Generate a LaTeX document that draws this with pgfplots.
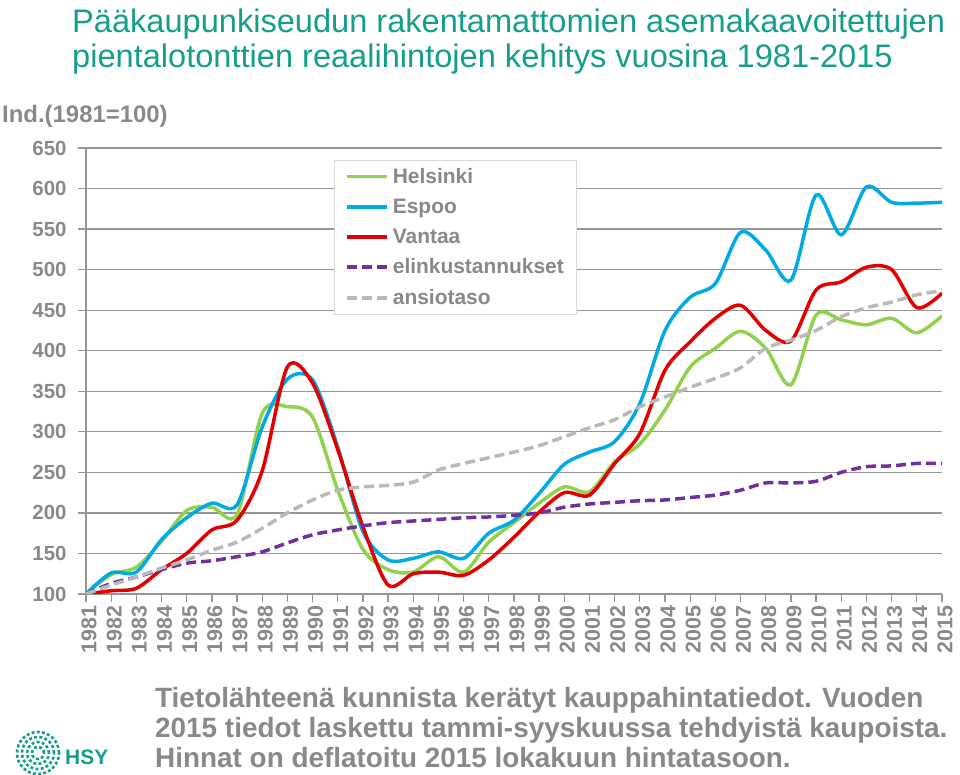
\documentclass[border=0pt]{standalone}
\usepackage{fontspec}
\setmainfont{Liberation Sans}
\usepackage{pgfplots}
\usepackage{pgfplotstable}
\pgfplotsset{compat=1.18}
\definecolor{hel}{RGB}{146,208,80}
\definecolor{esp}{RGB}{0,170,228}
\definecolor{van}{RGB}{228,0,0}
\definecolor{elk}{RGB}{112,48,160}
\definecolor{ans}{RGB}{185,185,185}
\definecolor{txt}{RGB}{137,137,137}
\definecolor{grd}{RGB}{150,150,150}
\definecolor{teal2}{RGB}{22,158,140}

\pgfplotstableread{
year hel esp van elk ans
1981 100 100 100 100 100
1982 124 126 104 113 111
1983 133 127 107 121 121
1984 165 167 130 130 132
1985 203 194 150 138 142
1986 207 212 179 141 154
1987 198 210 191 146 164
1988 323 306 252 152 181
1989 331 365 380 163 200
1990 318 364 360 173 216
1991 228 281 278 179 228
1992 155 177 183 184 232
1993 130 142 111 188 234
1994 127 144 125 190 238
1995 146 152 127 192 253
1996 127 144 123 194 261
1997 164 175 142 195 268
1998 188 191 170 197 275
1999 212 224 201 200 283
2000 232 260 225 207 294
2001 226 275 222 211 305
2002 263 288 261 213 315
2003 285 335 298 215 331
2004 327 425 376 216 343
2005 380 466 411 219 355
2006 403 483 440 222 366
2007 424 546 456 228 379
2008 403 524 425 237 403
2009 358 487 412 237 413
2010 444 592 475 239 425
2011 438 543 485 250 442
2012 432 602 503 257 453
2013 440 583 500 258 460
2014 422 582 453 261 469
2015 443 583 471 261 474
}\data

\begin{document}
\begin{tikzpicture}[x=1bp,y=1bp]
\path[use as bounding box] (0,0) rectangle (960,775);
\begin{axis}[
  at={(86bp,181bp)}, anchor=south west, scale only axis,
  width=856bp, height=446bp,
  xmin=1981, xmax=2015, ymin=100, ymax=650,
  xtick={1981,...,2015}, ytick={100,150,...,650},
  axis x line*=bottom, axis y line*=left,
  axis line style={grd, line width=1.3bp},
  ymajorgrids, grid style={grd, line width=1.3bp},
  tick align=outside, major tick length=8bp,
  tick style={grd, line width=1.3bp},
  /pgf/number format/1000 sep={},
  /pgf/number format/assume math mode=true,
  yticklabel style={font=\bfseries\fontsize{20.5}{24}\selectfont, text=txt, xshift=-8bp},
  xticklabel style={rotate=90, anchor=east, font=\bfseries\fontsize{21.5}{24}\selectfont, text=txt, yshift=-3bp},
  legend style={at={(0.2897,0.973)}, anchor=north west, draw=black!15, line width=0.8bp,
    font=\bfseries\fontsize{21}{25}\selectfont, text=txt, row sep=10bp,
    /tikz/column sep=2bp, inner xsep=11bp, inner ysep=6bp},
  legend cell align=left,
  legend image code/.code={\draw[#1] (0bp,0bp) -- (40bp,0bp);},
]
\addplot[hel, line width=3.5bp, smooth] table[x=year, y=hel] {\data};
\addlegendentry{Helsinki}
\addplot[esp, line width=3.5bp, smooth] table[x=year, y=esp] {\data};
\addlegendentry{Espoo}
\addplot[van, line width=3.5bp, smooth] table[x=year, y=van] {\data};
\addlegendentry{Vantaa}
\addplot[elk, line width=3.5bp, smooth, dash pattern=on 10bp off 5bp] table[x=year, y=elk] {\data};
\addlegendentry{elinkustannukset}
\addplot[ans, line width=3.5bp, smooth, dash pattern=on 10bp off 5bp] table[x=year, y=ans] {\data};
\addlegendentry{ansiotaso}
\end{axis}
\node[anchor=base west, text=teal2, font=\fontsize{32.7}{38}\selectfont, inner sep=0] at (72,742) {Pääkaupunkiseudun rakentamattomien asemakaavoitettujen};
\node[anchor=base west, text=teal2, font=\fontsize{32.7}{38}\selectfont, inner sep=0] at (72,707) {pientalotonttien reaalihintojen kehitys vuosina 1981-2015};
\node[anchor=base west, text=txt, font=\bfseries\fontsize{24}{28}\selectfont, inner sep=0] at (2,652) {Ind.(1981=100)};
\node[anchor=base west, text=txt, font=\bfseries\fontsize{28}{30}\selectfont, inner sep=0] at (155,67) {Tietolähteenä kunnista kerätyt kauppahintatiedot. Vuoden};
\node[anchor=base west, text=txt, font=\bfseries\fontsize{28}{30}\selectfont, inner sep=0] at (155,37) {2015 tiedot laskettu tammi-syyskuussa tehdyistä kaupoista.};
\node[anchor=base west, text=txt, font=\bfseries\fontsize{28}{30}\selectfont, inner sep=0] at (155,7) {Hinnat on deflatoitu 2015 lokakuun hintatasoon.};
\foreach \r in {6,11,16,21} {
  \draw[teal2, line width=2.6bp, dash pattern=on 3bp off 2.2bp] (38,22) circle (\r);
}
\node[anchor=base west, text=teal2, font=\bfseries\fontsize{21}{24}\selectfont, inner sep=0] at (65,10) {HSY};
\end{tikzpicture}
\end{document}
